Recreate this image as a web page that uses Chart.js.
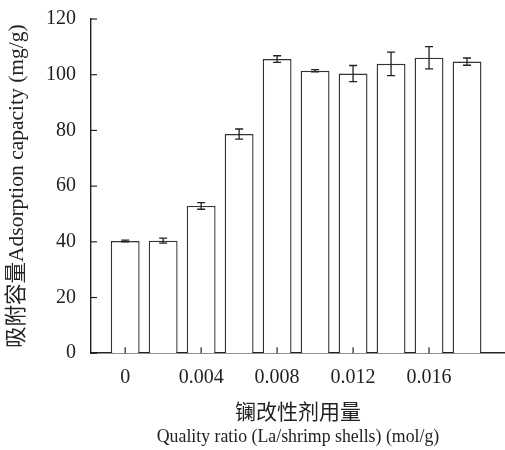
<!DOCTYPE html>
<html>
<head>
<meta charset="utf-8">
<script src="https://cdn.jsdelivr.net/npm/chart.js@4"></script>
<style>
  body { margin: 0; background: #fff; }
  #wrap { width: 505px; height: 450px; }
</style>
</head>
<body>
<div id="wrap"><canvas id="adsChart"></canvas></div>
<script>
// lanthanum dose (mol/g) and measured adsorption capacity (mg/g)
const doses = [0, 0.002, 0.004, 0.006, 0.008, 0.010, 0.012, 0.014, 0.016, 0.018];
const capacity = [40.3, 40.4, 52.9, 78.7, 105.6, 101.4, 100.4, 103.9, 106.1, 104.7];
const errors = [0.3, 0.9, 1.2, 1.8, 1.2, 0.4, 2.9, 4.2, 4.0, 1.3];
const xTicks = [0, 0.004, 0.008, 0.012, 0.016];
const yTicks = [0, 20, 40, 60, 80, 100, 120];

const fontFamily = "'Liberation Serif', 'Times New Roman', 'Noto Sans CJK SC', serif";
const ink = '#222';

// error bars + inward tick marks
const extras = {
    id: 'extras',
    afterDatasetsDraw(chart) {
        const ctx = chart.ctx;
        const x = chart.scales.x;
        const y = chart.scales.y;
        ctx.save();
        ctx.strokeStyle = ink;
        ctx.lineWidth = 1.3;

        doses.forEach((d, i) => {
            const px = x.getPixelForValue(d);
            const top = y.getPixelForValue(capacity[i] + errors[i]);
            const bot = y.getPixelForValue(capacity[i] - errors[i]);
            ctx.beginPath();
            ctx.moveTo(px, top); ctx.lineTo(px, bot);
            ctx.moveTo(px - 4, top); ctx.lineTo(px + 4, top);
            ctx.moveTo(px - 4, bot); ctx.lineTo(px + 4, bot);
            ctx.stroke();
        });

        ctx.lineWidth = 1.2;
        yTicks.forEach(v => {
            const py = y.getPixelForValue(v);
            ctx.beginPath();
            ctx.moveTo(x.left, py); ctx.lineTo(x.left + 6, py);
            ctx.stroke();
        });
        xTicks.forEach(v => {
            const px = x.getPixelForValue(v);
            ctx.beginPath();
            ctx.moveTo(px, y.bottom); ctx.lineTo(px, y.bottom - 6);
            ctx.stroke();
        });
        ctx.restore();
    }
};

const ctx = document.getElementById('adsChart').getContext('2d');
new Chart(ctx, {
    type: 'bar',
    data: {
        datasets: [{
            data: doses.map((d, i) => ({ x: d, y: capacity[i] })),
            backgroundColor: '#fff',
            borderColor: '#333',
            borderWidth: 1.4,
            barPercentage: 0.76,
            categoryPercentage: 1
        }]
    },
    options: {
        responsive: true,
        maintainAspectRatio: false,
        animation: false,
        layout: { padding: { top: 19, right: 0, left: 0, bottom: 0 } },
        plugins: {
            legend: { display: false },
            tooltip: { enabled: false },
            subtitle: {
                display: true,
                position: 'bottom',
                fullSize: false,
                text: 'Quality ratio (La/shrimp shells) (mol/g)',
                color: ink,
                font: { family: fontFamily, size: 17.8, weight: 'normal', lineHeight: 1.2 },
                padding: { top: 0, bottom: 2 }
            }
        },
        scales: {
            x: {
                type: 'linear',
                offset: false,
                min: -0.0018,
                max: 0.02,
                afterBuildTicks: s => { s.ticks = xTicks.map(v => ({ value: v })); },
                afterFit: s => { s.height = 73.4; },
                grid: { display: false, drawTicks: false },
                border: { display: true, color: ink, width: 1.6 },
                ticks: {
                    padding: 13,
                    color: ink,
                    font: { family: fontFamily, size: 20 },
                    maxRotation: 0,
                    callback: v => String(v)
                },
                title: {
                    display: true,
                    text: '镧改性剂用量',
                    color: ink,
                    font: { family: fontFamily, size: 21, lineHeight: 1.2 },
                    padding: { top: 0, bottom: 1 }
                }
            },
            y: {
                min: 0,
                max: 120,
                afterBuildTicks: s => { s.ticks = yTicks.map(v => ({ value: v })); },
                afterFit: s => {
                    s.width = 91;
                    s.paddingTop = 0;
                    s.paddingBottom = 0;
                },
                grid: { display: false, drawTicks: false },
                border: { display: true, color: ink, width: 1.4 },
                ticks: {
                    padding: 15,
                    color: ink,
                    font: { family: fontFamily, size: 20 }
                },
                title: {
                    display: true,
                    text: '吸附容量Adsorption capacity (mg/g)',
                    color: ink,
                    font: { family: fontFamily, size: 21.5 },
                    padding: { top: 4, bottom: 0 }
                }
            }
        }
    },
    plugins: [extras]
});
</script>
</body>
</html>
